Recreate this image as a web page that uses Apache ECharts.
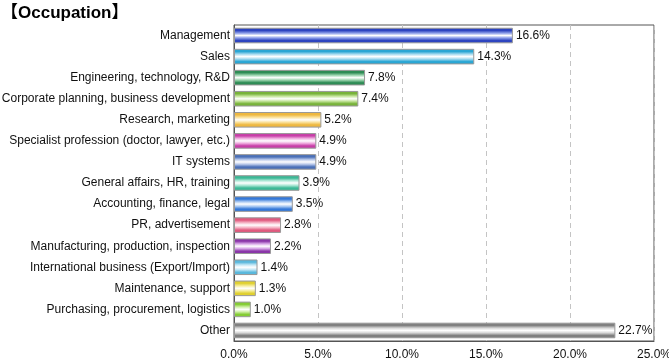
<!DOCTYPE html>
<html><head><meta charset="utf-8">
<script src="https://cdn.jsdelivr.net/npm/echarts@6/dist/echarts.min.js"></script>
<style>html,body{margin:0;padding:0;background:#fff}#c{width:669px;height:360px}</style>
</head><body><div id="c"></div>
<script>
const categories = ["Management","Sales","Engineering, technology, R&D","Corporate planning, business development","Research, marketing","Specialist profession (doctor, lawyer, etc.)","IT systems","General affairs, HR, training","Accounting, finance, legal","PR, advertisement","Manufacturing, production, inspection","International business (Export/Import)","Maintenance, support","Purchasing, procurement, logistics","Other"];
const values = [16.6,14.3,7.8,7.4,5.2,4.9,4.9,3.9,3.5,2.8,2.2,1.4,1.3,1.0,22.7];
const tickLabels = ["0.0%","5.0%","10.0%","15.0%","20.0%","25.0%"];
const barColors = [
  ["#2d44c0","#8ea0ea"],["#2aa6d4","#a8dcf0"],["#2e8c55","#9ed6b0"],["#78b33a","#c8e6a0"],
  ["#eeb840","#fbe3a0"],["#c83ea8","#f0b0e0"],["#4a70b8","#b8c8ea"],["#3cb896","#aee8d6"],
  ["#3478d8","#a8c8f2"],["#e05a7e","#f6b8c8"],["#8a36a8","#d8a8e8"],["#5ab8dc","#c4e8f6"],
  ["#e0d030","#f6eea0"],["#84cc34","#d0f0a8"],["#808080","#d8d8d8"]
];
function grad(c){
  return new echarts.graphic.LinearGradient(0,0,0,1,[
    {offset:0,color:c[0]},{offset:0.18,color:c[0]},{offset:0.35,color:c[1]},
    {offset:0.5,color:'#ffffff'},{offset:0.65,color:c[1]},{offset:0.82,color:c[0]},{offset:1,color:c[0]}
  ]);
}
const chart = echarts.init(document.getElementById('c'),null,{renderer:'canvas'});
chart.setOption({
  animation:false,
  textStyle:{fontFamily:'Liberation Sans, Arial, sans-serif'},
  title:{text:'【Occupation】',left:-4,top:0,textStyle:{fontFamily:'Liberation Sans, Noto Sans CJK JP, sans-serif',fontSize:17,fontWeight:'bold',color:'#000'}},
  grid:{left:234,top:25,width:420,height:316,show:true,borderColor:'#555',borderWidth:1,containLabel:false,outerBoundsMode:'none'},
  xAxis:{type:'value',min:0,max:25,interval:5,
    axisLine:{show:true,lineStyle:{color:'#555'}},axisTick:{show:false},
    splitLine:{show:true,lineStyle:{color:'#c4c4c4',type:[5,4]}},
    axisLabel:{color:'#111',fontSize:12,margin:8,formatter:(v)=>tickLabels[Math.round(v/5)]}},
  yAxis:{type:'category',inverse:true,data:categories,
    axisLine:{show:true,lineStyle:{color:'#555'}},axisTick:{show:false},
    axisLabel:{color:'#111',fontSize:12,margin:4}},
  series:[{type:'bar',barWidth:'74%',
    data:values.map((v,i)=>({value:v,itemStyle:{color:grad(barColors[i]),borderColor:'#999',borderWidth:1}})),
    label:{show:true,position:'right',distance:3,color:'#111',fontSize:12,formatter:(p)=>p.value.toFixed(1)+'%'}}]
});
</script></body></html>
